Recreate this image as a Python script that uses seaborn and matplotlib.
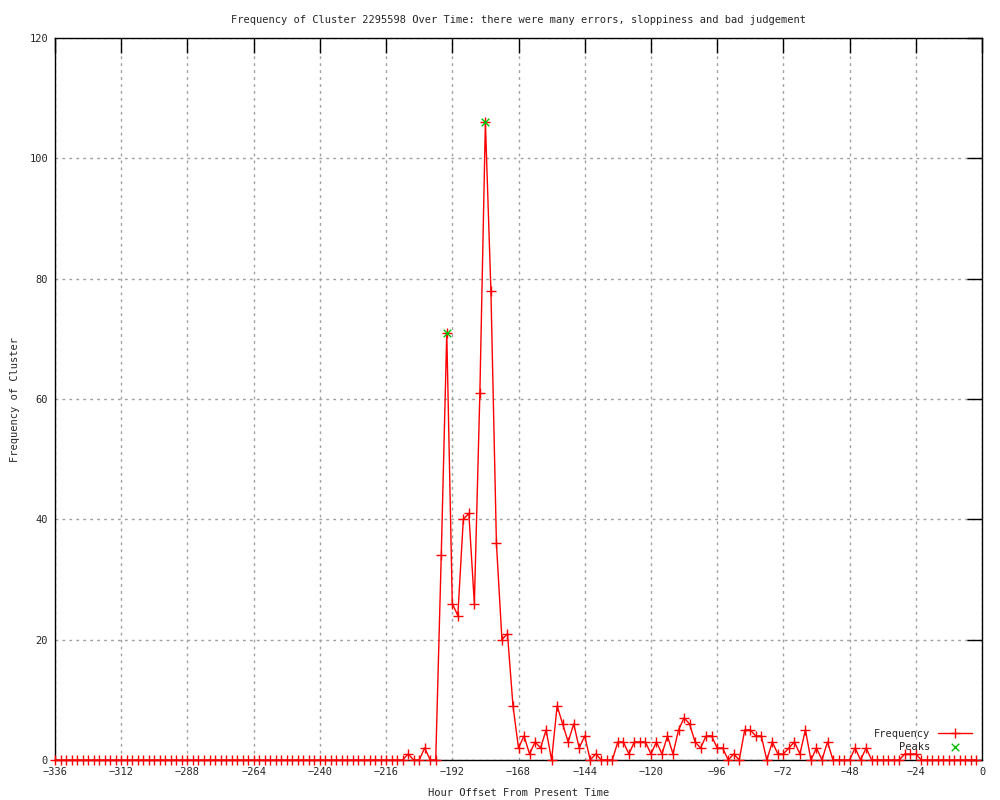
import numpy as np
import pandas as pd
import seaborn as sns
import matplotlib
matplotlib.use("Agg")
import matplotlib.pyplot as plt

# === data: cluster frequency every 2 hours, from -336 to -2 ===
hours = list(range(-336, 0, 2))
freq = ([0] * 64 +                                   # -336 .. -210
        [1, 0, 0, 2, 0, 0,                           # -208 .. -198
         34, 71, 26, 24, 40, 41, 26, 61, 106, 78,    # -196 .. -178
         36, 20, 21, 9, 2, 4, 1, 3, 2, 5,            # -176 .. -158
         0, 9, 6, 3, 6, 2, 4, 0, 1, 0,               # -156 .. -138
         0, 0, 3, 3, 1, 3, 3, 3, 1, 3,               # -136 .. -118
         1, 4, 1, 5, 7, 6, 3, 2, 4, 4,               # -116 .. -98
         2, 2, 0, 1, 0, 5, 5, 4, 4, 0,               # -96 .. -78
         3, 1, 1, 2, 3, 1, 5, 0, 2, 0,               # -76 .. -58
         3, 0, 0, 0, 0, 2, 0, 2,                     # -56 .. -42
         0, 0, 0, 0, 0, 0,                           # -40 .. -30
         1, 1, 1] +                                  # -28 .. -24
        [0] * 11)                                    # -22 .. -2

peak_hours = [-194, -180]
peak_vals = [71, 106]

x_ticks = list(range(-336, 1, 24))
y_ticks = list(range(0, 121, 20))

df = pd.DataFrame({"hour": hours, "freq": freq})
peaks = pd.DataFrame({"hour": peak_hours, "freq": peak_vals})

# === style ===
sns.set_theme(style="white")
plt.rcParams["font.family"] = ["DejaVu Sans Mono", "DejaVu Sans"]
plt.rcParams["font.size"] = 7.5

fig = plt.figure(figsize=(10, 8), dpi=100)
ax = fig.add_axes([0.055, 0.05, 0.927, 0.9025])

sns.lineplot(data=df, x="hour", y="freq", ax=ax, color="red", lw=1,
             marker="+", markersize=7, markeredgewidth=1,
             markeredgecolor="red", label="Frequency", zorder=3)
sns.scatterplot(data=peaks, x="hour", y="freq", ax=ax, marker="x",
                color="#00c000", s=30, linewidth=1, label="Peaks", zorder=4)

# gnuplot lets the markers at 0 hang over the axis
for ln in ax.lines:
    ln.set_clip_on(False)

ax.set_xlim(-336, 0)
ax.set_ylim(0, 120)
ax.set_xticks(x_ticks)
ax.set_yticks(y_ticks)
ax.grid(True, color="#a0a0a0", linestyle=(0, (2, 3)), linewidth=1)
ax.set_axisbelow(True)

for sp in ax.spines.values():
    sp.set_color("black")
    sp.set_linewidth(1)

ax.tick_params(direction="in", length=11, width=1, color="black",
               top=True, right=True, labelsize=7.5, pad=5)

ax.set_title("Frequency of Cluster 2295598 Over Time: there were many errors, sloppiness and bad judgement",
             fontsize=7.5, pad=11)
ax.set_xlabel("Hour Offset From Present Time", fontsize=7.5, labelpad=8)
ax.set_ylabel("Frequency of Cluster", fontsize=7.5, labelpad=7)

ax.legend(loc="lower right", frameon=False, markerfirst=False,
          fontsize=7.5, handlelength=3.2, borderaxespad=0.4,
          labelspacing=0.3, bbox_to_anchor=(0.998, 0.0))

fig.savefig("out.png", dpi=100)
